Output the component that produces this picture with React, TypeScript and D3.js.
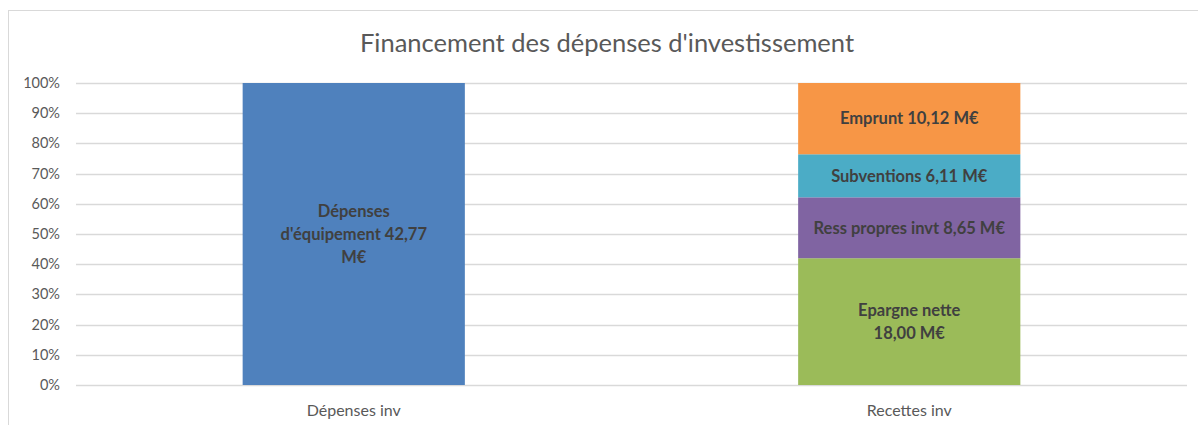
import React from "react";
import * as d3 from "d3";

const title = "Financement des dépenses d'investissement";
const categories = ["Dépenses inv", "Recettes inv"];
const yTicks = [0, 0.1, 0.2, 0.3, 0.4, 0.5, 0.6, 0.7, 0.8, 0.9, 1];

// Dépenses inv stack
const depensesNames = ["Dépenses d'équipement"];
const depensesValues = [42.77];
const depensesLabels = [["Dépenses", "d'équipement 42,77", "M€"]];
const depensesColors = ["#4f81bd"];

// Recettes inv stack (bottom to top)
const recettesNames = ["Epargne nette", "Ress propres invt", "Subventions", "Emprunt"];
const recettesValues = [18.0, 8.65, 6.11, 10.12];
const recettesLabels = [
  ["Epargne nette", "18,00 M€"],
  ["Ress propres invt 8,65 M€"],
  ["Subventions 6,11 M€"],
  ["Emprunt 10,12 M€"],
];
const recettesColors = ["#9bbb59", "#8064a2", "#4bacc6", "#f79646"];

const W = 1198;
const H = 425;
const plot = { left: 76, right: 1187, top: 83, bottom: 385 };
const FONT = "Lato, 'Open Sans', sans-serif";

type Seg = { cat: string; name: string; y0: number; y1: number; color: string; lines: string[] };

function buildStack(cat: string, names: string[], values: number[], colors: string[], labels: string[][]): Seg[] {
  const total = d3.sum(values);
  let acc = 0;
  return names.map((n, i) => {
    const y0 = acc / total;
    acc += values[i];
    return { cat, name: n, y0, y1: acc / total, color: colors[i], lines: labels[i] };
  });
}

export default function App() {
  const x = d3.scaleBand<string>().domain(categories).range([plot.left, plot.right]).paddingInner(0.6).paddingOuter(0.3);
  const y = d3.scaleLinear().domain([0, 1]).range([plot.bottom, plot.top]);
  const fmt = d3.format(".0%");
  const segs = [
    ...buildStack(categories[0], depensesNames, depensesValues, depensesColors, depensesLabels),
    ...buildStack(categories[1], recettesNames, recettesValues, recettesColors, recettesLabels),
  ];
  const lineH = 23;
  return (
    <svg width={W} height={H} style={{ position: "absolute", left: 0, top: 0, background: "#fff" }} fontFamily={FONT}>
      <rect x={8.5} y={10.5} width={W + 10} height={H + 10} fill="#fff" stroke="#d9d9d9" strokeWidth={1} />
      <text x={607} y={52} textAnchor="middle" fontSize={25.5} fill="#595959">{title}</text>
      {yTicks.map((t) => (
        <g key={t}>
          <line x1={plot.left} x2={plot.right} y1={Math.round(y(t)) + 0.5} y2={Math.round(y(t)) + 0.5} stroke="#d9d9d9" strokeWidth={1.3} />
          <text x={60} y={y(t)} dy="0.35em" textAnchor="end" fontSize={14.5} fill="#595959">{fmt(t)}</text>
        </g>
      ))}
      {segs.map((s) => {
        const bx = x(s.cat)!;
        const top = y(s.y1);
        const bot = y(s.y0);
        const cy = (top + bot) / 2;
        const n = s.lines.length;
        return (
          <g key={s.cat + s.name}>
            <rect x={bx} y={top} width={x.bandwidth()} height={bot - top} fill={s.color} />
            {s.lines.map((l, i) => (
              <text key={i} x={bx + x.bandwidth() / 2} y={cy + (i - (n - 1) / 2) * lineH} dy="0.35em" textAnchor="middle" fontSize={16.5} fontWeight="bold" fill="#404040">{l}</text>
            ))}
          </g>
        );
      })}
      {categories.map((c) => (
        <text key={c} x={x(c)! + x.bandwidth() / 2} y={410} dy="0.35em" textAnchor="middle" fontSize={16} fill="#595959">{c}</text>
      ))}
    </svg>
  );
}
